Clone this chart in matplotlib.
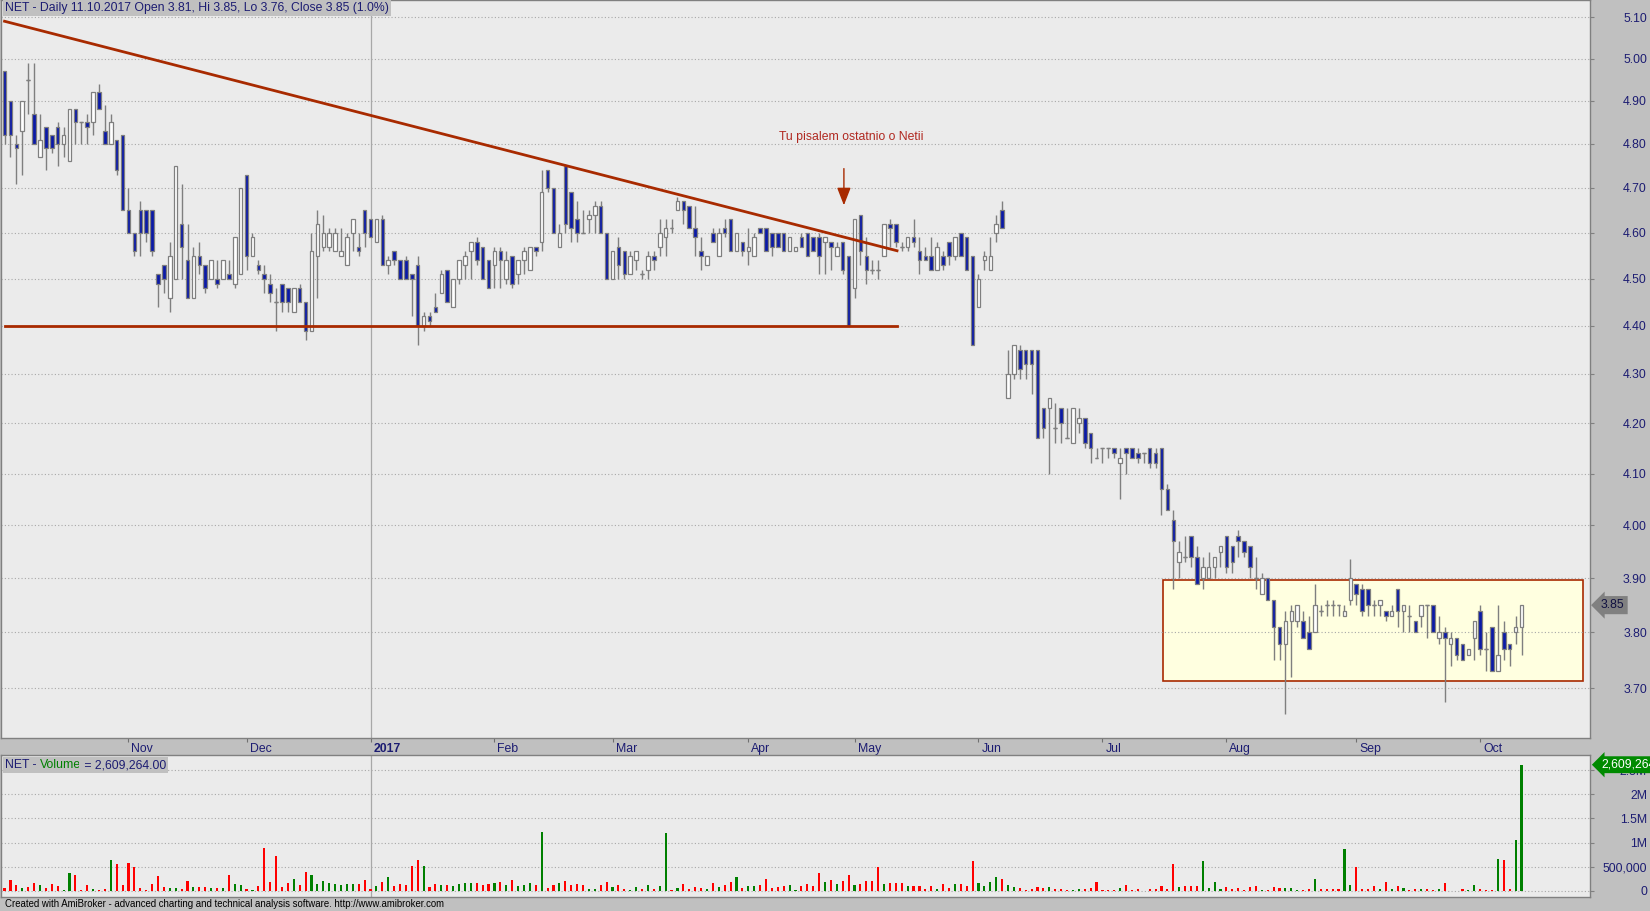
import matplotlib
matplotlib.use("Agg")
import matplotlib.pyplot as plt
import matplotlib.transforms as mtransforms
from matplotlib.patches import Rectangle
from matplotlib.ticker import NullLocator
import numpy as np

# daily bars, Oct 2016 - 11.10.2017
opens = [4.97, 4.90, 4.80, 4.83, 4.95, 4.87, 4.77, 4.84, 4.82, 4.84,
         4.80, 4.76, 4.88, 4.85, 4.85, 4.85, 4.92, 4.83, 4.80, 4.81,
         4.82, 4.65, 4.60, 4.65, 4.65, 4.65, 4.51, 4.53, 4.46, 4.50,
         4.62, 4.54, 4.46, 4.55, 4.53, 4.50, 4.50, 4.50, 4.51, 4.49,
         4.51, 4.73, 4.55, 4.53, 4.51, 4.49, 4.45, 4.49, 4.48, 4.43,
         4.48, 4.45, 4.39, 4.55, 4.57, 4.57, 4.56, 4.55, 4.53, 4.60,
         4.57, 4.65, 4.63, 4.58, 4.63, 4.53, 4.56, 4.54, 4.54, 4.51,
         4.53, 4.40, 4.42, 4.44, 4.47, 4.52, 4.44, 4.50, 4.53, 4.56,
         4.58, 4.57, 4.54, 4.53, 4.56, 4.50, 4.55, 4.51, 4.54, 4.52,
         4.57, 4.58, 4.74, 4.70, 4.57, 4.75, 4.69, 4.63, 4.60, 4.63,
         4.64, 4.66, 4.60, 4.50, 4.57, 4.56, 4.51, 4.54, 4.51, 4.52,
         4.55, 4.57, 4.59, 4.61, 4.65, 4.67, 4.66, 4.61, 4.56, 4.53,
         4.60, 4.55, 4.61, 4.63, 4.56, 4.58, 4.56, 4.55, 4.61, 4.61,
         4.60, 4.60, 4.60, 4.56, 4.56, 4.59, 4.60, 4.59, 4.59, 4.58,
         4.58, 4.55, 4.58, 4.55, 4.48, 4.64, 4.55, 4.52, 4.52, 4.55,
         4.62, 4.62, 4.57, 4.57, 4.59, 4.56, 4.55, 4.55, 4.52, 4.55,
         4.58, 4.55, 4.60, 4.59, 4.55, 4.44, 4.54, 4.52, 4.60, 4.65,
         4.25, 4.30, 4.35, 4.35, 4.35, 4.35, 4.23, 4.23, 4.19, 4.23,
         4.17, 4.16, 4.20, 4.21, 4.18, 4.13, 4.15, 4.15, 4.15, 4.12,
         4.15, 4.15, 4.14, 4.14, 4.15, 4.14, 4.15, 4.07, 4.01, 3.93,
         3.94, 3.98, 3.94, 3.90, 3.90, 3.92, 3.95, 3.98, 3.96, 3.98,
         3.97, 3.96, 3.90, 3.87, 3.90, 3.86, 3.81, 3.78, 3.82, 3.82,
         3.82, 3.80, 3.80, 3.84, 3.85, 3.85, 3.85, 3.83, 3.86, 3.89,
         3.88, 3.88, 3.85, 3.85, 3.84, 3.83, 3.88, 3.84, 3.83, 3.82,
         3.83, 3.85, 3.85, 3.79, 3.80, 3.78, 3.79, 3.78, 3.76, 3.79,
         3.84, 3.77, 3.81, 3.73, 3.80, 3.78, 3.80, 3.81]

highs = [4.97, 4.90, 4.82, 4.90, 4.99, 4.99, 4.87, 4.84, 4.82, 4.85,
         4.84, 4.88, 4.88, 4.85, 4.87, 4.92, 4.94, 4.89, 4.87, 4.81,
         4.82, 4.70, 4.60, 4.67, 4.65, 4.65, 4.51, 4.53, 4.58, 4.75,
         4.71, 4.62, 4.57, 4.58, 4.53, 4.54, 4.54, 4.54, 4.54, 4.59,
         4.70, 4.73, 4.60, 4.54, 4.53, 4.51, 4.48, 4.49, 4.48, 4.48,
         4.49, 4.45, 4.60, 4.65, 4.64, 4.61, 4.61, 4.61, 4.60, 4.63,
         4.60, 4.65, 4.63, 4.63, 4.64, 4.55, 4.56, 4.54, 4.55, 4.51,
         4.55, 4.43, 4.43, 4.47, 4.52, 4.52, 4.50, 4.54, 4.56, 4.58,
         4.59, 4.57, 4.54, 4.57, 4.57, 4.56, 4.55, 4.54, 4.57, 4.57,
         4.57, 4.74, 4.74, 4.70, 4.62, 4.755, 4.69, 4.67, 4.65, 4.65,
         4.67, 4.67, 4.60, 4.56, 4.59, 4.56, 4.56, 4.56, 4.52, 4.56,
         4.56, 4.63, 4.63, 4.63, 4.68, 4.67, 4.66, 4.66, 4.59, 4.55,
         4.61, 4.61, 4.63, 4.63, 4.60, 4.58, 4.61, 4.60, 4.61, 4.61,
         4.60, 4.60, 4.60, 4.59, 4.57, 4.60, 4.60, 4.59, 4.60, 4.59,
         4.58, 4.58, 4.58, 4.55, 4.63, 4.64, 4.59, 4.54, 4.54, 4.62,
         4.63, 4.62, 4.58, 4.59, 4.63, 4.59, 4.57, 4.59, 4.58, 4.56,
         4.58, 4.59, 4.60, 4.59, 4.55, 4.51, 4.56, 4.59, 4.64, 4.67,
         4.35, 4.36, 4.36, 4.35, 4.35, 4.35, 4.23, 4.25, 4.24, 4.23,
         4.23, 4.23, 4.23, 4.21, 4.18, 4.15, 4.15, 4.15, 4.15, 4.15,
         4.15, 4.15, 4.15, 4.14, 4.15, 4.15, 4.15, 4.08, 4.03, 3.97,
         3.98, 3.98, 3.96, 3.94, 3.95, 3.94, 3.96, 3.98, 3.96, 3.99,
         3.97, 3.96, 3.94, 3.91, 3.90, 3.86, 3.81, 3.84, 3.85, 3.85,
         3.84, 3.83, 3.89, 3.85, 3.86, 3.86, 3.85, 3.85, 3.935, 3.89,
         3.89, 3.88, 3.86, 3.86, 3.84, 3.85, 3.88, 3.85, 3.85, 3.82,
         3.85, 3.85, 3.85, 3.83, 3.81, 3.80, 3.79, 3.78, 3.77, 3.82,
         3.85, 3.80, 3.81, 3.85, 3.82, 3.78, 3.83, 3.85]

lows = [4.80, 4.77, 4.71, 4.73, 4.87, 4.80, 4.77, 4.74, 4.78, 4.75,
        4.77, 4.76, 4.80, 4.80, 4.80, 4.82, 4.88, 4.80, 4.80, 4.73,
        4.65, 4.60, 4.55, 4.55, 4.58, 4.55, 4.44, 4.47, 4.43, 4.50,
        4.50, 4.46, 4.46, 4.51, 4.47, 4.50, 4.48, 4.50, 4.50, 4.48,
        4.51, 4.52, 4.55, 4.51, 4.47, 4.45, 4.39, 4.43, 4.43, 4.43,
        4.45, 4.37, 4.39, 4.46, 4.56, 4.56, 4.56, 4.55, 4.53, 4.56,
        4.55, 4.57, 4.59, 4.58, 4.53, 4.51, 4.53, 4.50, 4.50, 4.42,
        4.36, 4.39, 4.40, 4.43, 4.47, 4.45, 4.44, 4.49, 4.50, 4.50,
        4.53, 4.50, 4.48, 4.48, 4.48, 4.49, 4.48, 4.49, 4.51, 4.52,
        4.55, 4.56, 4.69, 4.60, 4.57, 4.60, 4.58, 4.58, 4.60, 4.60,
        4.60, 4.60, 4.50, 4.50, 4.50, 4.50, 4.51, 4.52, 4.50, 4.50,
        4.52, 4.55, 4.55, 4.60, 4.65, 4.62, 4.61, 4.55, 4.52, 4.53,
        4.58, 4.55, 4.59, 4.56, 4.56, 4.55, 4.53, 4.55, 4.60, 4.56,
        4.55, 4.57, 4.56, 4.56, 4.56, 4.57, 4.55, 4.56, 4.51, 4.51,
        4.52, 4.55, 4.51, 4.40, 4.46, 4.53, 4.49, 4.51, 4.50, 4.55,
        4.57, 4.57, 4.56, 4.56, 4.57, 4.51, 4.54, 4.52, 4.52, 4.52,
        4.53, 4.54, 4.55, 4.52, 4.36, 4.44, 4.52, 4.52, 4.58, 4.61,
        4.25, 4.29, 4.29, 4.29, 4.26, 4.17, 4.17, 4.10, 4.16, 4.16,
        4.17, 4.16, 4.18, 4.15, 4.12, 4.13, 4.12, 4.13, 4.13, 4.05,
        4.10, 4.13, 4.12, 4.12, 4.11, 4.11, 4.02, 4.03, 3.88, 3.90,
        3.93, 3.92, 3.89, 3.88, 3.90, 3.90, 3.92, 3.91, 3.91, 3.94,
        3.94, 3.90, 3.88, 3.87, 3.86, 3.75, 3.75, 3.655, 3.72, 3.81,
        3.79, 3.77, 3.80, 3.83, 3.83, 3.83, 3.83, 3.83, 3.85, 3.85,
        3.83, 3.83, 3.83, 3.83, 3.82, 3.83, 3.81, 3.80, 3.80, 3.80,
        3.81, 3.79, 3.80, 3.78, 3.675, 3.74, 3.75, 3.75, 3.76, 3.75,
        3.76, 3.73, 3.73, 3.73, 3.75, 3.74, 3.78, 3.76]

closes = [4.82, 4.82, 4.79, 4.90, 4.95, 4.80, 4.81, 4.79, 4.79, 4.80,
          4.82, 4.88, 4.85, 4.85, 4.84, 4.92, 4.88, 4.80, 4.85, 4.74,
          4.65, 4.60, 4.56, 4.60, 4.60, 4.56, 4.49, 4.50, 4.55, 4.75,
          4.57, 4.46, 4.55, 4.53, 4.48, 4.54, 4.49, 4.54, 4.50, 4.59,
          4.70, 4.55, 4.59, 4.52, 4.50, 4.47, 4.45, 4.45, 4.45, 4.48,
          4.45, 4.39, 4.56, 4.62, 4.60, 4.60, 4.60, 4.56, 4.59, 4.63,
          4.56, 4.60, 4.59, 4.63, 4.53, 4.54, 4.54, 4.50, 4.50, 4.50,
          4.40, 4.42, 4.41, 4.43, 4.51, 4.45, 4.50, 4.54, 4.55, 4.58,
          4.54, 4.50, 4.48, 4.56, 4.54, 4.54, 4.49, 4.54, 4.56, 4.57,
          4.56, 4.69, 4.70, 4.60, 4.60, 4.62, 4.61, 4.60, 4.60, 4.64,
          4.66, 4.60, 4.50, 4.56, 4.53, 4.51, 4.55, 4.56, 4.51, 4.55,
          4.54, 4.60, 4.61, 4.61, 4.67, 4.65, 4.61, 4.59, 4.55, 4.55,
          4.58, 4.60, 4.60, 4.56, 4.60, 4.56, 4.57, 4.59, 4.60, 4.56,
          4.57, 4.57, 4.56, 4.59, 4.57, 4.57, 4.55, 4.56, 4.55, 4.59,
          4.57, 4.57, 4.52, 4.40, 4.63, 4.56, 4.52, 4.52, 4.52, 4.62,
          4.61, 4.58, 4.57, 4.59, 4.58, 4.54, 4.54, 4.52, 4.57, 4.53,
          4.55, 4.59, 4.55, 4.52, 4.36, 4.50, 4.55, 4.55, 4.62, 4.61,
          4.30, 4.36, 4.31, 4.32, 4.32, 4.17, 4.19, 4.25, 4.19, 4.20,
          4.17, 4.23, 4.21, 4.16, 4.15, 4.13, 4.15, 4.15, 4.14, 4.13,
          4.14, 4.13, 4.13, 4.14, 4.12, 4.12, 4.07, 4.03, 3.97, 3.95,
          3.94, 3.94, 3.89, 3.92, 3.92, 3.94, 3.96, 3.92, 3.93, 3.97,
          3.95, 3.92, 3.90, 3.90, 3.86, 3.81, 3.78, 3.82, 3.84, 3.85,
          3.79, 3.77, 3.85, 3.84, 3.85, 3.85, 3.85, 3.84, 3.90, 3.87,
          3.84, 3.85, 3.85, 3.86, 3.83, 3.84, 3.84, 3.85, 3.83, 3.80,
          3.85, 3.85, 3.80, 3.80, 3.79, 3.79, 3.76, 3.75, 3.77, 3.82,
          3.77, 3.77, 3.73, 3.76, 3.77, 3.77, 3.81, 3.85]

# volume in thousands of shares
volumes_k = [63, 230, 125, 63, 84, 167, 125, 63, 146, 105,
             21, 377, 335, 21, 125, 42, 28, 42, 649, 565,
             125, 586, 488, 63, 21, 146, 314, 84, 63, 63,
             42, 209, 84, 84, 84, 63, 63, 63, 335, 146,
             125, 42, 21, 105, 879, 188, 732, 84, 167, 251,
             125, 397, 335, 146, 209, 167, 146, 125, 146, 146,
             146, 230, 42, 105, 188, 293, 105, 146, 125, 523,
             649, 523, 84, 146, 125, 125, 105, 146, 167, 167,
             167, 125, 146, 167, 188, 125, 230, 105, 125, 167,
             125, 1213, 63, 125, 167, 209, 125, 146, 125, 42,
             42, 125, 188, 84, 125, 42, 21, 84, 42, 125,
             42, 105, 1192, 21, 63, 146, 42, 84, 63, 42,
             167, 84, 125, 188, 293, 63, 105, 105, 125, 251,
             63, 84, 105, 125, 21, 105, 146, 105, 377, 188,
             230, 146, 209, 335, 125, 146, 209, 209, 502, 146,
             167, 167, 167, 105, 105, 105, 42, 105, 42, 146,
             63, 146, 146, 105, 628, 167, 105, 188, 293, 251,
             125, 84, 63, 21, 42, 84, 63, 84, 42, 42,
             21, 21, 42, 42, 63, 188, 21, 21, 21, 63,
             125, 21, 42, 10, 42, 42, 105, 42, 565, 84,
             105, 105, 105, 628, 63, 188, 42, 84, 42, 63,
             21, 84, 105, 21, 21, 84, 63, 63, 63, 21,
             21, 42, 251, 42, 42, 42, 42, 858, 125, 502,
             42, 42, 105, 42, 188, 42, 105, 63, 21, 42,
             42, 42, 21, 42, 167, 5, 5, 42, 21, 125,
             42, 21, 21, 670, 649, 42, 1046, 2609]

month_pos = [21, 41, 62, 83, 103, 126, 144, 165, 186, 207, 229, 250]
month_labels = ['Nov', 'Dec', '2017', 'Feb', 'Mar', 'Apr', 'May', 'Jun', 'Jul', 'Aug', 'Sep', 'Oct']
year_start = 62

price_ticks = [5.10, 5.00, 4.90, 4.80, 4.70, 4.60, 4.50, 4.40, 4.30, 4.20, 4.10, 4.00, 3.90, 3.80, 3.70]
volume_ticks = [0, 500000, 1000000, 1500000, 2000000, 2500000]
volume_tick_labels = ['0', '500,000', '1M', '1.5M', '2M', '2.5M']

# hand drawn studies
trend_x = [0, 151.2]
trend_y = [5.09, 4.561]
support_x = [0, 151.2]
support_y = [4.40, 4.40]
range_box = {'x0': 196.2, 'x1': 267.4, 'y0': 3.712, 'y1': 3.897}
arrow_x = 142.2
arrow_from, arrow_to = 4.75, 4.655
note_x, note_y = 143.5, 4.816
note_text = 'Tu pisalem ostatnio o Netii'

title_text = 'NET - Daily 11.10.2017 Open 3.81, Hi 3.85, Lo 3.76, Close 3.85 (1.0%)'
last_close = 3.85
last_volume = 2609264

NAVY = '#1c1c72'
PANEL = '#ebebeb'
FRAME = '#c0c0c0'
DOWN_BLUE = '#0b1aa6'
STUDY = '#a82a00'
FS = 8.8

plt.rcParams['font.family'] = ['Liberation Sans', 'DejaVu Sans']

W, H = 1650, 911
fig = plt.figure(figsize=(W / 100, H / 100), dpi=100, facecolor=FRAME)


def px_rect(left, top, right, bottom):
    return [left / W, 1 - bottom / H, (right - left) / W, (bottom - top) / H]


ax = fig.add_axes(px_rect(1, 0, 1590, 738), facecolor=PANEL)
axv = fig.add_axes(px_rect(1, 755, 1590, 897), facecolor=PANEL, sharex=ax)

o = np.array(opens)
h = np.array(highs)
l = np.array(lows)
c = np.array(closes)
x = np.arange(len(c))
up = c > o
body_lo = np.minimum(o, c)
body_hi = np.maximum(o, c)

# candles
ax.vlines(x, l, h, color='#7f7f7f', linewidth=1.0, zorder=3)
ax.bar(x, body_hi - body_lo, bottom=body_lo, width=0.6,
       color=np.where(up, 'white', DOWN_BLUE), edgecolor='#7f7f7f',
       linewidth=0.9, zorder=4)
doji = body_hi == body_lo
ax.hlines(c[doji], x[doji] - 0.33, x[doji] + 0.33, color='#7f7f7f', linewidth=1.0, zorder=4)

# studies
ax.add_patch(Rectangle((range_box['x0'], range_box['y0']),
                       range_box['x1'] - range_box['x0'], range_box['y1'] - range_box['y0'],
                       facecolor='#ffffe0', edgecolor=STUDY, linewidth=1.2, zorder=1))
ax.plot(trend_x, trend_y, color=STUDY, linewidth=2.0, zorder=5)
ax.plot(support_x, support_y, color=STUDY, linewidth=2.0, zorder=5)
ax.annotate('', xy=(arrow_x, arrow_to), xytext=(arrow_x, arrow_from),
            arrowprops=dict(arrowstyle='-|>,head_length=0.9,head_width=0.35',
                            color=STUDY, linewidth=1.0, mutation_scale=12), zorder=6)
ax.text(note_x, note_y, note_text, color='#b02820', fontsize=FS, ha='center', va='center', zorder=6)

ax.set_yscale('log')
ax.set_ylim(3.613, 5.142)
ax.set_xlim(-0.6, 268.6)
ax.set_yticks(price_ticks)
ax.set_yticklabels([f'{p:.2f}' for p in price_ticks])
ax.yaxis.set_minor_locator(NullLocator())
ax.tick_params(axis='y', left=False, right=True, labelleft=False, labelright=True,
               length=3, color='#808080', labelcolor=NAVY, labelsize=FS, pad=38)
for lbl in ax.yaxis.get_majorticklabels():
    lbl.set_horizontalalignment('right')
ax.grid(True, axis='y', linestyle=(0, (1, 2)), color='#a8a8a8', linewidth=0.8)

ax.set_xticks(month_pos)
ax.set_xticklabels(month_labels)
ax.tick_params(axis='x', bottom=True, length=3, color='#707070', labelcolor=NAVY, labelsize=FS, pad=0.5)
shift = mtransforms.ScaledTranslation(3 / 100, 0, fig.dpi_scale_trans)
for lbl in ax.get_xticklabels():
    lbl.set_horizontalalignment('left')
    lbl.set_transform(lbl.get_transform() + shift)
    if lbl.get_text() == '2017':
        lbl.set_fontweight('bold')

for a in (ax, axv):
    for sp in a.spines.values():
        sp.set_color('#808080')
        sp.set_linewidth(1.0)
    a.axvline(year_start, color='#a8a8a8', linewidth=0.9, zorder=0.5)

# volume
vol = np.array(volumes_k) * 1000
axv.bar(x, vol, width=0.36, color=np.where(up, '#008000', '#ff0000'), zorder=3)
axv.set_ylim(-124000, 2810000)
axv.set_yticks(volume_ticks)
axv.set_yticklabels(volume_tick_labels)
axv.tick_params(axis='y', left=False, right=True, labelleft=False, labelright=True,
                length=3, color='#808080', labelcolor=NAVY, labelsize=FS, pad=38)
for lbl in axv.yaxis.get_majorticklabels():
    lbl.set_horizontalalignment('right')
axv.tick_params(axis='x', bottom=False, labelbottom=False)
axv.grid(True, axis='y', linestyle=(0, (1, 2)), color='#a8a8a8', linewidth=0.8)

# value tags on the right scale
tag_shift = mtransforms.ScaledTranslation(11 / 100, 0, fig.dpi_scale_trans)
ax.text(1.0, last_close, f'{last_close:.2f}', color='#101040', fontsize=FS, ha='left', va='center',
        transform=mtransforms.blended_transform_factory(ax.transAxes, ax.transData) + tag_shift,
        bbox=dict(boxstyle='larrow,pad=0.25', facecolor='#808080', edgecolor='none'),
        clip_on=False, zorder=10)
axv.text(1.0, last_volume, f'{last_volume:,}', color='white', fontsize=FS, ha='left', va='center',
         transform=mtransforms.blended_transform_factory(axv.transAxes, axv.transData) + tag_shift,
         bbox=dict(boxstyle='larrow,pad=0.2', facecolor='#008a00', edgecolor='none'),
         clip_on=False, zorder=10)

# panel titles
ax.text(4 / 1590, 1 - 8 / 738, title_text, transform=ax.transAxes, color=NAVY, fontsize=FS,
        ha='left', va='center', zorder=10,
        bbox=dict(boxstyle='square,pad=0.15', facecolor=FRAME, edgecolor='none'))

vbox = dict(boxstyle='square,pad=0.15', facecolor=FRAME, edgecolor='none')
t1 = axv.text(4 / 1590, 1 - 10 / 142, 'NET - ', transform=axv.transAxes, color=NAVY,
              fontsize=FS, ha='left', va='center', bbox=vbox, zorder=10)
t2 = axv.annotate('Volume', xycoords=t1, xy=(1, 0.5), va='center', ha='left', color='#008000',
                  fontsize=FS, bbox=vbox, zorder=10)
axv.annotate(' = 2,609,264.00', xycoords=t2, xy=(1, 0.5), va='center', ha='left', color=NAVY,
             fontsize=FS, bbox=vbox, zorder=10)

fig.text(5 / W, 1 - 904 / H, 'Created with AmiBroker - advanced charting and technical analysis software. http://www.amibroker.com',
         color='black', fontsize=6.9, ha='left', va='center')

fig.savefig('out.png', dpi=100, facecolor=FRAME)
